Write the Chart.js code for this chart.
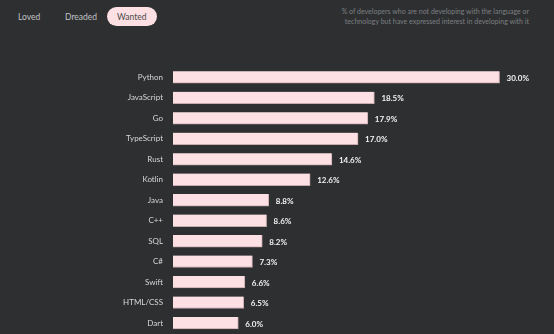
<!DOCTYPE html>
<html>
<head>
<meta charset="utf-8">
<script src="https://cdn.jsdelivr.net/npm/chart.js@4"></script>
<style>
  html, body { margin: 0; padding: 0; background: #2d2f31; }
  body { width: 554px; height: 334px; position: relative; overflow: hidden; font-family: Lato, "Open Sans", sans-serif; }
  .tab { position: absolute; top: 9px; font-size: 8.5px; color: #c0c2c5; line-height: 16px; }
  .tab.active { background: #fde0e3; color: #4a4a4a; border-radius: 10px; padding: 1.5px 10px; top: 7px; }
  .note { position: absolute; right: 25px; top: 7px; font-size: 7px; line-height: 9.5px; color: #7d7f82; text-align: right; }
  #wrap { position: absolute; left: 0; top: 0; width: 554px; height: 348px; }
</style>
</head>
<body>
<div class="tab" style="left:18px">Loved</div>
<div class="tab" style="left:65px">Dreaded</div>
<div class="tab active" style="left:107px">Wanted</div>
<div class="note">% of developers who are not developing with the language or<br>technology but have expressed interest in developing with it</div>
<div id="wrap"><canvas id="chart"></canvas></div>
<script>
const languages = ['Python', 'JavaScript', 'Go', 'TypeScript', 'Rust', 'Kotlin', 'Java', 'C++', 'SQL', 'C#', 'Swift', 'HTML/CSS', 'Dart'];
const wanted = [30.0, 18.5, 17.9, 17.0, 14.6, 12.6, 8.8, 8.6, 8.2, 7.3, 6.6, 6.5, 6.0];

// percentage text drawn just right of each bar
const valueLabels = {
    id: 'valueLabels',
    afterDatasetsDraw(chart) {
        const ctx = chart.ctx;
        const meta = chart.getDatasetMeta(0);
        ctx.save();
        ctx.font = 'bold 8px Lato, sans-serif';
        ctx.fillStyle = '#f2f2f2';
        ctx.textBaseline = 'middle';
        meta.data.forEach((bar, i) => {
            ctx.fillText(wanted[i].toFixed(1) + '%', bar.x + 7, bar.y + 1);
        });
        ctx.restore();
    }
};

const ctx = document.getElementById('chart').getContext('2d');
new Chart(ctx, {
    type: 'bar',
    data: {
        labels: languages,
        datasets: [{
            data: wanted,
            backgroundColor: '#fde0e3',
            borderColor: '#c9aaae',
            borderWidth: { top: 0, left: 0, right: 1, bottom: 1 },
            borderSkipped: false,
            barThickness: 12
        }]
    },
    options: {
        indexAxis: 'y',
        responsive: true,
        maintainAspectRatio: false,
        animation: false,
        layout: { padding: { top: 67, bottom: 0, left: 0, right: 0 } },
        scales: {
            x: { display: false, min: 0, max: 35 },
            y: {
                grid: { display: false, drawTicks: false },
                border: { display: false },
                afterFit(scale) { scale.width = 173; },
                ticks: {
                    color: '#d6d7d9',
                    padding: 10,
                    font: { size: 8, family: 'Lato, sans-serif' }
                }
            }
        },
        plugins: {
            legend: { display: false },
            tooltip: { enabled: false }
        }
    },
    plugins: [valueLabels]
});
</script>
</body>
</html>
